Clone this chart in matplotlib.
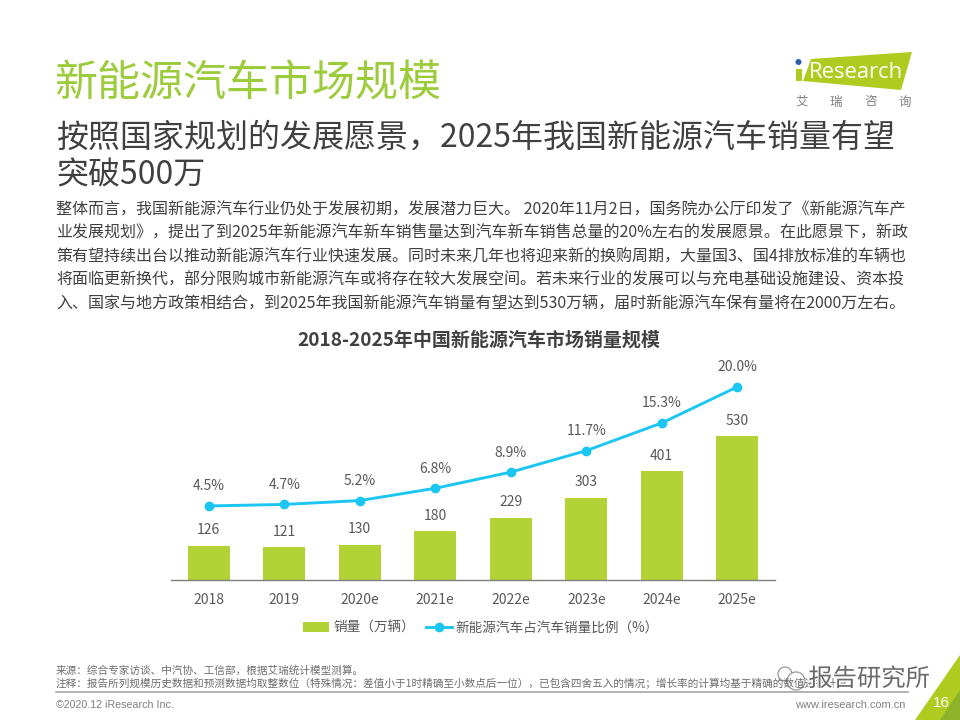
import matplotlib
matplotlib.use('Agg')
import matplotlib.pyplot as plt
import matplotlib.patheffects as pe
from matplotlib.patches import Polygon, Circle, Rectangle

plt.rcParams['font.family'] = ['Noto Sans CJK SC', 'DejaVu Sans']

years = ['2018', '2019', '2020e', '2021e', '2022e', '2023e', '2024e', '2025e']
sales = [126, 121, 130, 180, 229, 303, 401, 530]
share = [4.5, 4.7, 5.2, 6.8, 8.9, 11.7, 15.3, 20.0]

title = '新能源汽车市场规模'
subtitle = ['按照国家规划的发展愿景，2025年我国新能源汽车销量有望', '突破500万']
body = [
    '整体而言，我国新能源汽车行业仍处于发展初期，发展潜力巨大。 2020年11月2日，国务院办公厅印发了《新能源汽车产',
    '业发展规划》，提出了到2025年新能源汽车新车销售量达到汽车新车销售总量的20%左右的发展愿景。在此愿景下，新政',
    '策有望持续出台以推动新能源汽车行业快速发展。同时未来几年也将迎来新的换购周期，大量国3、国4排放标准的车辆也',
    '将面临更新换代，部分限购城市新能源汽车或将存在较大发展空间。若未来行业的发展可以与充电基础设施建设、资本投',
    '入、国家与地方政策相结合，到2025年我国新能源汽车销量有望达到530万辆，届时新能源汽车保有量将在2000万左右。',
]
chart_title = '2018-2025年中国新能源汽车市场销量规模'
legend_labels = ['销量（万辆）', '新能源汽车占汽车销量比例（%）']
source = '来源：综合专家访谈、中汽协、工信部，根据艾瑞统计模型测算。'
note = '注释：报告所列规模历史数据和预测数据均取整数位（特殊情况：差值小于1时精确至小数点后一位），已包含四舍五入的情况；增长率的计算均基于精确的数值进行计算。'

GREEN = '#B2D235'
BLUE = '#1CC6F2'
GREY = '#595959'
W, H = 960, 720

fig = plt.figure(figsize=(9.6, 7.2), dpi=100, facecolor='white')

# page overlay in pixel coordinates
pg = fig.add_axes([0, 0, 1, 1], zorder=0)
pg.set_xlim(0, W)
pg.set_ylim(H, 0)
pg.axis('off')

pg.text(54, 85, title, fontsize=31, color='#9CCB3B', va='center', ha='left')
pg.text(56, 138, subtitle[0], fontsize=23, color='#404040', va='center', ha='left')
pg.text(56, 175, subtitle[1], fontsize=23, color='#404040', va='center', ha='left')
for i, line in enumerate(body):
    pg.text(56, 209.5 + i * 23.4, line, fontsize=11.55, color='#404040', va='center', ha='left')

# logo
pg.add_patch(Polygon([[811, 59], [912, 52], [901, 90], [803, 81]], closed=True, fc='#AFCB1F', ec='none'))
pg.add_patch(Rectangle((796, 69), 6, 12, fc='#AFCB1F', ec='none'))
pg.add_patch(Circle((798.5, 62), 3, fc='#2F5FA8', ec='none'))
pg.text(809, 72, 'Research', fontsize=15.8, color='white', va='center', ha='left', family=['Open Sans', 'DejaVu Sans'])
for x, ch in zip([802, 836, 871, 905], '艾瑞咨询'):
    pg.text(x, 102, ch, fontsize=9, color='#7F7F7F', va='center', ha='center')

# footer
pg.text(56, 671, source, fontsize=7.65, color='#6E6E6E', va='center', ha='left')
pg.text(56, 684, note, fontsize=7.65, color='#6E6E6E', va='center', ha='left')
pg.plot([56, 908], [691.5, 691.5], color='#A6A6A6', lw=1.2)
pg.text(56, 705, '©2020.12 iResearch Inc.', fontsize=7.7, color='#7F7F7F', va='center', ha='left', family=['Liberation Sans'])
pg.text(905, 705, 'www.iresearch.com.cn', fontsize=7.9, color='#7F7F7F', va='center', ha='right', family=['Liberation Sans'])

# corner + watermark
pg.add_patch(Polygon([[960, 655], [960, 720], [915, 720]], closed=True, fc='#AFCB1F', ec='none'))
pg.add_patch(Polygon([[960, 690], [960, 720], [940, 720]], closed=True, fc='#8DB32A', ec='none'))
pg.text(941, 703, '16', fontsize=11, color='white', va='center', ha='center', family=['Liberation Sans'])
pg.add_patch(Circle((785, 674), 7, fc='white', ec='#9A9A9A', lw=0.9))
pg.add_patch(Circle((796, 681), 9, fc='white', ec='#9A9A9A', lw=0.9))
pg.text(869, 679, '报告研究所', fontsize=17.5, color='#6A6A6A', va='center', ha='center',
        path_effects=[pe.withStroke(linewidth=2, foreground='white')])

# chart
L, R, B, T = 171, 775, 580, 360
ax = fig.add_axes([L / W, 1 - B / H, (R - L) / W, (B - T) / H], zorder=1)
ax.patch.set_alpha(0)
xs = list(range(len(years)))
bars = ax.bar(xs, sales, width=0.555, color=GREEN, label=legend_labels[0])
ax.set_xlim(-0.5, 7.5)
ax.set_ylim(0, 810)
ax.set_yticks([])
for s in ['top', 'left', 'right']:
    ax.spines[s].set_visible(False)
ax.spines['bottom'].set_color('#7F7F7F')
ax.spines['bottom'].set_linewidth(1.0)
ax.set_xticks(xs)
ax.set_xticklabels(years, fontsize=10, color=GREY)
ax.tick_params(axis='x', length=0, pad=9)
for x, v in zip(xs, sales):
    ax.annotate(str(v), (x, v), xytext=(0, 6), textcoords='offset points', ha='center', va='bottom',
                fontsize=10, color=GREY)

ax2 = ax.twinx()
ax2.patch.set_alpha(0)
ax2.set_ylim(-5.14, 23.5)
ax2.axis('off')
line, = ax2.plot(xs, share, color=BLUE, lw=2.1, marker='o', ms=6, label=legend_labels[1])
for x, v in zip(xs, share):
    ax2.annotate(f'{v:.1f}%', (x, v), xytext=(0, 9), textcoords='offset points', ha='center', va='bottom',
                 fontsize=10, color=GREY)

pg.text(479, 340, chart_title, fontsize=13.7, fontweight='bold', color='#404040', va='center', ha='center')

fig.legend([bars, line], legend_labels, loc='center', bbox_to_anchor=(481 / W, 1 - 628 / H), ncol=2,
           frameon=False, fontsize=9.8, labelcolor=GREY, columnspacing=0.8, handlelength=1.9, handletextpad=0.3)

fig.savefig('out.png', dpi=100)
